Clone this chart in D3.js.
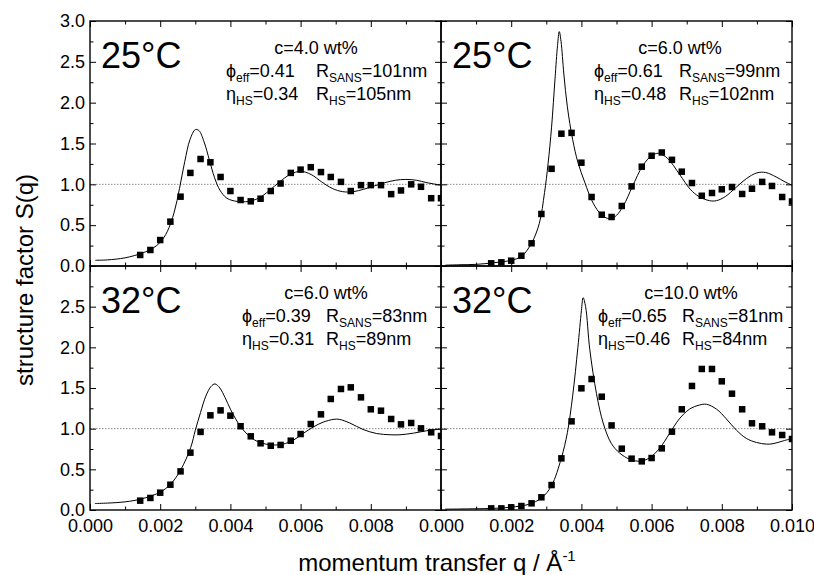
<!DOCTYPE html>
<html><head><meta charset="utf-8">
<script src="https://cdn.jsdelivr.net/npm/d3@7"></script>
<style>
html,body{margin:0;padding:0;background:#fff;}
svg text{font-family:"Liberation Sans",Arial,Helvetica,sans-serif;fill:#000;}
</style></head><body>
<svg id="chart" width="814" height="575"></svg>
<script>
// ---------------- data ----------------
const qPoints = [0.00143,0.00172,0.00200,0.00229,0.00258,0.00286,0.00315,0.00343,0.00372,0.00400,
  0.00429,0.00458,0.00486,0.00515,0.00543,0.00572,0.00600,0.00629,0.00658,0.00686,
  0.00715,0.00743,0.00772,0.00800,0.00829,0.00858,0.00886,0.00915,0.00943,0.00972,0.01000];

const sTL = [0.135,0.196,0.318,0.543,0.849,1.14,1.31,1.27,1.09,0.918,0.808,0.792,0.824,0.918,1.01,1.14,
  1.18,1.21,1.15,1.09,1.03,0.918,0.99,0.99,0.99,0.88,0.925,1.00,0.97,0.83,0.83];
const sTR = [0.033,0.045,0.065,0.126,0.278,0.637,1.19,1.62,1.63,1.265,0.845,0.628,0.60,0.735,0.975,1.216,
  1.35,1.39,1.30,1.155,1.016,0.86,0.894,0.939,0.967,0.882,0.946,1.03,0.98,0.845,0.79];
const sBL = [0.115,0.148,0.213,0.311,0.475,0.705,0.96,1.164,1.225,1.16,1.03,0.906,0.82,0.79,0.80,0.852,
  0.934,1.057,1.176,1.365,1.488,1.508,1.385,1.238,1.221,1.119,1.053,1.07,1.004,0.955,0.91];
const sBR = [0.02,0.02,0.033,0.049,0.082,0.156,0.307,0.635,1.09,1.496,1.61,1.393,1.04,0.754,0.631,0.598,
  0.639,0.758,0.963,1.238,1.525,1.734,1.734,1.582,1.43,1.238,1.066,1.029,0.955,0.922,0.873];

// hard-sphere model fits
const fitQ_TL = [0.00015,0.0005,0.0010,0.0015,0.0018,0.0020,0.0022,0.0024,0.00255,0.0027,0.00285,0.0030,0.0031,0.00325,0.0034,0.00355,0.0037,0.0039,0.0042,0.0045,0.0048,0.0051,0.0054,0.0057,0.0060,0.0063,0.0066,0.0069,0.0072,0.0075,0.0078,0.0081,0.0084,0.0087,0.0090,0.0093,0.0096,0.0100];
const fitS_TL = [0.07,0.075,0.10,0.16,0.22,0.29,0.42,0.66,0.95,1.28,1.55,1.67,1.66,1.52,1.30,1.08,0.93,0.83,0.79,0.79,0.83,0.92,1.03,1.12,1.16,1.12,1.03,0.95,0.91,0.91,0.94,0.98,1.02,1.05,1.06,1.05,1.02,0.99];

const fitQ_TR = [0.00012,0.0005,0.0010,0.0015,0.0020,0.0023,0.00258,0.0028,0.00295,0.00305,0.00315,0.00325,0.00332,0.00337,0.00342,0.0035,0.0036,0.00375,0.0039,0.0041,0.0043,0.0045,0.0047,0.00485,0.0050,0.0052,0.00545,0.00575,0.0060,0.0062,0.00645,0.0068,0.0071,0.00735,0.00765,0.00785,0.0081,0.0084,0.0087,0.0090,0.00925,0.00955,0.0098,0.0100];
const fitS_TR = [0.01,0.015,0.02,0.04,0.07,0.12,0.28,0.52,0.9,1.25,1.7,2.3,2.7,2.87,2.75,2.35,1.95,1.55,1.27,1.02,0.8,0.66,0.59,0.58,0.62,0.74,0.97,1.23,1.35,1.38,1.32,1.12,0.94,0.85,0.80,0.80,0.85,0.96,1.07,1.14,1.145,1.09,1.03,0.99];

const fitQ_BL = [0.00014,0.0005,0.0010,0.0015,0.0020,0.0023,0.00258,0.00287,0.0030,0.00315,0.0033,0.00345,0.00356,0.0037,0.00385,0.0040,0.00415,0.0043,0.00456,0.00484,0.0052,0.0055,0.0058,0.00607,0.00636,0.00664,0.00695,0.0071,0.0074,0.00778,0.00817,0.00855,0.00883,0.00922,0.0096,0.0100];
const fitS_BL = [0.08,0.085,0.10,0.14,0.22,0.32,0.49,0.77,0.98,1.2,1.4,1.52,1.55,1.5,1.38,1.24,1.12,1.02,0.9,0.83,0.80,0.81,0.86,0.94,1.02,1.08,1.115,1.115,1.07,0.99,0.94,0.925,0.925,0.945,0.975,0.995];

const fitQ_BR = [0.00012,0.0005,0.0010,0.0015,0.0020,0.0025,0.00287,0.00315,0.00343,0.0036,0.00375,0.0039,0.0040,0.00405,0.00412,0.00424,0.00443,0.00462,0.00485,0.00509,0.00537,0.00566,0.00594,0.00623,0.00651,0.00679,0.00708,0.00736,0.00756,0.00785,0.00813,0.00842,0.0087,0.00899,0.00927,0.00946,0.00975,0.0100];
const fitS_BR = [0.01,0.012,0.015,0.02,0.035,0.07,0.15,0.3,0.64,0.95,1.4,2.0,2.45,2.61,2.5,1.97,1.43,1.07,0.82,0.70,0.625,0.60,0.64,0.76,0.94,1.12,1.24,1.29,1.30,1.24,1.12,0.98,0.88,0.83,0.81,0.815,0.85,0.88];

const temps = ["25°C","25°C","32°C","32°C"];
const concs = ["c=4.0 wt%","c=6.0 wt%","c=6.0 wt%","c=10.0 wt%"];
const phiEff = ["0.41","0.61","0.39","0.65"];
const rSans = ["101","99","83","81"];
const etaHS = ["0.34","0.48","0.31","0.46"];
const rHS = ["105","102","89","84"];

const xMajorTicks = [0,0.002,0.004,0.006,0.008,0.010];
const xMinorTicks = [0.001,0.003,0.005,0.007,0.009];
const yMajorTicks = [0,0.5,1.0,1.5,2.0,2.5,3.0];
const yMinorTicks = [0.25,0.75,1.25,1.75,2.25,2.75];

// ---------------- layout ----------------
const svg = d3.select("#chart");
const cols = [[90,441],[441,792]];
const rows = [[21,266],[266,510]];
const annot = [{c:316,s:226,r:316},{c:680,s:594,r:679},{c:326,s:242,r:326},{c:691,s:598,r:682}];
const panelDefs = [
  {col:0,row:0,pts:sTL,fq:fitQ_TL,fs:fitS_TL},
  {col:1,row:0,pts:sTR,fq:fitQ_TR,fs:fitS_TR},
  {col:0,row:1,pts:sBL,fq:fitQ_BL,fs:fitS_BL},
  {col:1,row:1,pts:sBR,fq:fitQ_BR,fs:fitS_BR}
];

const fmtX = d3.format(".3f"), fmtY = d3.format(".1f");

panelDefs.forEach((p,i)=>{
  const [x0,x1] = cols[p.col], [y0,y1] = rows[p.row];
  const x = d3.scaleLinear().domain([0,0.010]).range([x0,x1]);
  const y = d3.scaleLinear().domain([0,3]).range([y1,y0]);
  const g = svg.append("g");
  const cid = "clip"+i;
  svg.append("clipPath").attr("id",cid).append("rect")
    .attr("x",x0).attr("y",y0).attr("width",x1-x0).attr("height",y1-y0);

  // reference line at S=1
  g.append("line").attr("x1",x0).attr("x2",x1).attr("y1",y(1)).attr("y2",y(1))
    .attr("stroke","#8a8a8a").attr("stroke-width",1).attr("stroke-dasharray","1.5,1.5");

  const inner = g.append("g").attr("clip-path",`url(#${cid})`);
  const line = d3.line().x(d=>x(d[0])).y(d=>y(d[1])).curve(d3.curveCatmullRom.alpha(0.5));
  inner.append("path").datum(p.fq.map((q,k)=>[q,p.fs[k]]))
    .attr("d",line).attr("fill","none").attr("stroke","#000").attr("stroke-width",1);
  const sz = 6.5;
  inner.selectAll("rect.pt").data(qPoints.map((q,k)=>[q,p.pts[k]])).enter().append("rect")
    .attr("class","pt").attr("x",d=>x(d[0])-sz/2).attr("y",d=>y(d[1])-sz/2)
    .attr("width",sz).attr("height",sz).attr("fill","#000");

  // axes (ticks inward)
  const showXL = p.row===1, showYL = p.col===0;
  const ax = [];
  ax.push(g.append("g").attr("transform",`translate(0,${y1})`).call(
    d3.axisBottom(x).tickValues(xMajorTicks).tickSize(-6).tickPadding(9)
      .tickFormat(d => (showXL && !(p.col===0 && d>0.0095)) ? fmtX(d) : "")));
  ax.push(g.append("g").attr("transform",`translate(0,${y1})`).call(
    d3.axisBottom(x).tickValues(xMinorTicks).tickSize(-3.5).tickFormat("")));
  ax.push(g.append("g").attr("transform",`translate(0,${y0})`).call(
    d3.axisTop(x).tickValues(xMajorTicks).tickSize(-6).tickFormat("")));
  ax.push(g.append("g").attr("transform",`translate(0,${y0})`).call(
    d3.axisTop(x).tickValues(xMinorTicks).tickSize(-3.5).tickFormat("")));
  ax.push(g.append("g").attr("transform",`translate(${x0},0)`).call(
    d3.axisLeft(y).tickValues(yMajorTicks).tickSize(-6).tickPadding(5)
      .tickFormat(d => (showYL && !(p.row===1 && d>2.9)) ? fmtY(d) : "")));
  ax.push(g.append("g").attr("transform",`translate(${x0},0)`).call(
    d3.axisLeft(y).tickValues(yMinorTicks).tickSize(-3.5).tickFormat("")));
  ax.push(g.append("g").attr("transform",`translate(${x1},0)`).call(
    d3.axisRight(y).tickValues(yMajorTicks).tickSize(-6).tickFormat("")));
  ax.push(g.append("g").attr("transform",`translate(${x1},0)`).call(
    d3.axisRight(y).tickValues(yMinorTicks).tickSize(-3.5).tickFormat("")));
  ax.forEach(a=>{
    a.select(".domain").remove();
    a.selectAll(".tick line").attr("stroke","#000").attr("stroke-width",1);
    a.selectAll(".tick text").attr("font-size",18).attr("font-family",null).attr("fill","#000");
  });

  // frame
  g.append("rect").attr("x",x0).attr("y",y0).attr("width",x1-x0).attr("height",y1-y0)
    .attr("fill","none").attr("stroke","#000").attr("stroke-width",1.4);

  // annotations
  g.append("text").attr("x",x0+11).attr("y",y0+47).attr("font-size",36).text(temps[i]);
  const a = annot[i];
  g.append("text").attr("x",a.c).attr("y",y0+33).attr("font-size",18)
    .attr("text-anchor","middle").text(concs[i]);
  const t2 = g.append("text").attr("x",a.s).attr("y",y0+56).attr("font-size",18);
  t2.append("tspan").text("ϕ");
  t2.append("tspan").attr("font-size",12).attr("dy",5).text("eff");
  t2.append("tspan").attr("dy",-5).text("="+phiEff[i]);
  t2.append("tspan").attr("x",a.r).text("R");
  t2.append("tspan").attr("font-size",12).attr("dy",5).text("SANS");
  t2.append("tspan").attr("dy",-5).text("="+rSans[i]+"nm");
  const t3 = g.append("text").attr("x",a.s).attr("y",y0+79).attr("font-size",18);
  t3.append("tspan").text("η");
  t3.append("tspan").attr("font-size",12).attr("dy",5).text("HS");
  t3.append("tspan").attr("dy",-5).text("="+etaHS[i]);
  t3.append("tspan").attr("x",a.r).text("R");
  t3.append("tspan").attr("font-size",12).attr("dy",5).text("HS");
  t3.append("tspan").attr("dy",-5).text("="+rHS[i]+"nm");
});

// axis titles
svg.append("text").attr("transform","rotate(-90)").attr("x",-280).attr("y",33)
  .attr("text-anchor","middle").attr("font-size",24).text("structure factor S(q)");
const xt = svg.append("text").attr("x",437).attr("y",571).attr("text-anchor","middle").attr("font-size",24);
xt.append("tspan").text("momentum transfer q / Å");
xt.append("tspan").attr("font-size",15).attr("dy",-10).text("-1");
</script>
</body></html>
